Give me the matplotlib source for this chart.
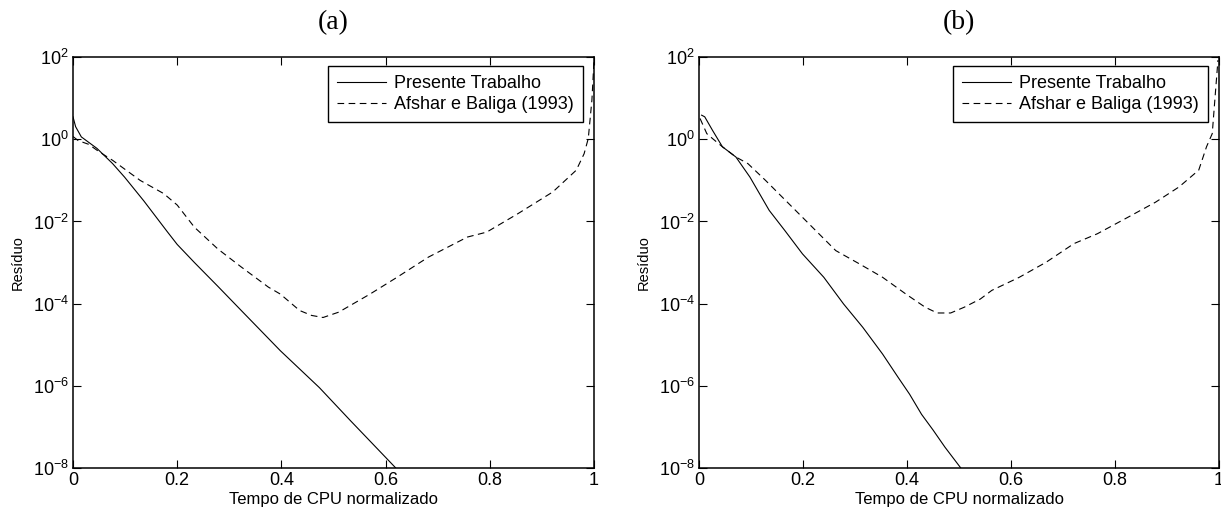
import numpy as np
import matplotlib
matplotlib.use("Agg")
import matplotlib.pyplot as plt
from matplotlib.ticker import FixedLocator, FuncFormatter, NullLocator

plt.rcParams['font.family'] = ['Liberation Sans', 'DejaVu Sans']
plt.rcParams['mathtext.fontset'] = 'custom'
plt.rcParams['mathtext.rm'] = 'Liberation Sans'
plt.rcParams['mathtext.it'] = 'Liberation Sans'

# ---------------- data (log10 of residual vs normalized CPU time) ----------------
# Panel (a)
a_pres_x = [0.0, 0.005, 0.016, 0.046, 0.076, 0.099, 0.136, 0.181, 0.2, 0.233, 0.278,
            0.323, 0.398, 0.473, 0.533, 0.57, 0.619]
a_pres_log = [0.55, 0.31, 0.06, -0.22, -0.59, -0.92, -1.5, -2.25, -2.56, -3.0, -3.58,
              -4.17, -5.15, -6.05, -6.86, -7.35, -8.0]
a_afs_x = [0.0, 0.01, 0.03, 0.05, 0.076, 0.129, 0.174, 0.2, 0.233, 0.278, 0.323, 0.375,
           0.398, 0.435, 0.458, 0.48, 0.51, 0.57, 0.622, 0.682, 0.757, 0.794, 0.854,
           0.921, 0.966, 0.981, 0.989, 0.996, 1.0]
a_afs_log = [0.07, -0.03, -0.12, -0.3, -0.51, -1.0, -1.32, -1.6, -2.14, -2.67, -3.11, -3.6,
             -3.77, -4.17, -4.29, -4.34, -4.21, -3.77, -3.36, -2.87, -2.38, -2.26, -1.81,
             -1.28, -0.75, -0.35, 0.02, 0.96, 1.93]

# Panel (b)
b_pres_x = [0.005, 0.011, 0.026, 0.045, 0.071, 0.098, 0.135, 0.165, 0.199, 0.24, 0.278,
            0.315, 0.353, 0.383, 0.405, 0.428, 0.45, 0.473, 0.503]
b_pres_log = [0.59, 0.55, 0.22, -0.18, -0.43, -0.92, -1.73, -2.22, -2.79, -3.36, -4.01,
              -4.58, -5.23, -5.8, -6.21, -6.7, -7.08, -7.5, -8.0]
b_afs_x = [0.002, 0.015, 0.026, 0.045, 0.071, 0.094, 0.128, 0.173, 0.218, 0.263, 0.308,
           0.353, 0.398, 0.435, 0.458, 0.484, 0.51, 0.541, 0.563, 0.616, 0.668, 0.721,
           0.766, 0.826, 0.878, 0.923, 0.961, 0.976, 0.987, 0.992, 0.998]
b_afs_log = [0.51, 0.14, 0.02, -0.18, -0.43, -0.59, -1.0, -1.57, -2.14, -2.71, -3.03,
             -3.36, -3.77, -4.09, -4.23, -4.23, -4.09, -3.89, -3.68, -3.36, -2.99, -2.54,
             -2.3, -1.89, -1.53, -1.16, -0.75, -0.18, 0.14, 0.96, 1.93]

titles = ['(a)', '(b)']
legend_labels = ['Presente Trabalho', 'Afshar e Baliga (1993)']
xlabel = 'Tempo de CPU normalizado'
ylabel = 'Resíduo'
xticks = [0, 0.2, 0.4, 0.6, 0.8, 1]
xticklabels = ['0', '0.2', '0.4', '0.6', '0.8', '1']
yticks_exp = [2, 0, -2, -4, -6, -8]

panels = [
    (a_pres_x, a_pres_log, a_afs_x, a_afs_log),
    (b_pres_x, b_pres_log, b_afs_x, b_afs_log),
]

fig = plt.figure(figsize=(12.21, 5.18), dpi=100)
axes_rects = [
    [73 / 1221, 1 - 467.7 / 518, 521 / 1221, 410.4 / 518],
    [699 / 1221, 1 - 467.7 / 518, 520 / 1221, 410.4 / 518],
]

for rect, title, (px, py, ax_, ay) in zip(axes_rects, titles, panels):
    ax = fig.add_axes(rect)
    ax.semilogy(px, 10 ** np.array(py), color='black', lw=0.8, label=legend_labels[0])
    ax.semilogy(ax_, 10 ** np.array(ay), color='black', lw=0.8,
                dashes=(6, 4), label=legend_labels[1])
    ax.set_xlim(0, 1)
    ax.set_ylim(1e-8, 1e2)
    ax.xaxis.set_major_locator(FixedLocator(xticks))
    ax.set_xticklabels(xticklabels)
    ax.yaxis.set_major_locator(FixedLocator([10.0 ** e for e in yticks_exp]))
    ax.yaxis.set_minor_locator(NullLocator())
    ax.yaxis.set_major_formatter(FuncFormatter(
        lambda v, p: r'$\mathregular{10^{%d}}$' % int(round(np.log10(v)))))
    ax.tick_params(direction='in', length=6, width=0.8, top=True, right=True,
                   labelsize=13, pad=3, colors='black')
    for s in ax.spines.values():
        s.set_linewidth(1.1)
    ax.set_xlabel(xlabel, fontsize=12, labelpad=2)
    ax.set_ylabel(ylabel, fontsize=10.5, labelpad=6)
    ax.set_title(title, fontsize=20, family=['Liberation Serif', 'DejaVu Serif'], pad=20)
    leg = ax.legend(loc='upper right', bbox_to_anchor=(0.979, 0.979), borderaxespad=0,
                    fontsize=13, handlelength=2.7, handletextpad=0.45,
                    labelspacing=0.25, borderpad=0.5, fancybox=False, framealpha=1,
                    edgecolor='black')
    leg.get_frame().set_linewidth(1.0)

fig.savefig('out.png', dpi=100)
